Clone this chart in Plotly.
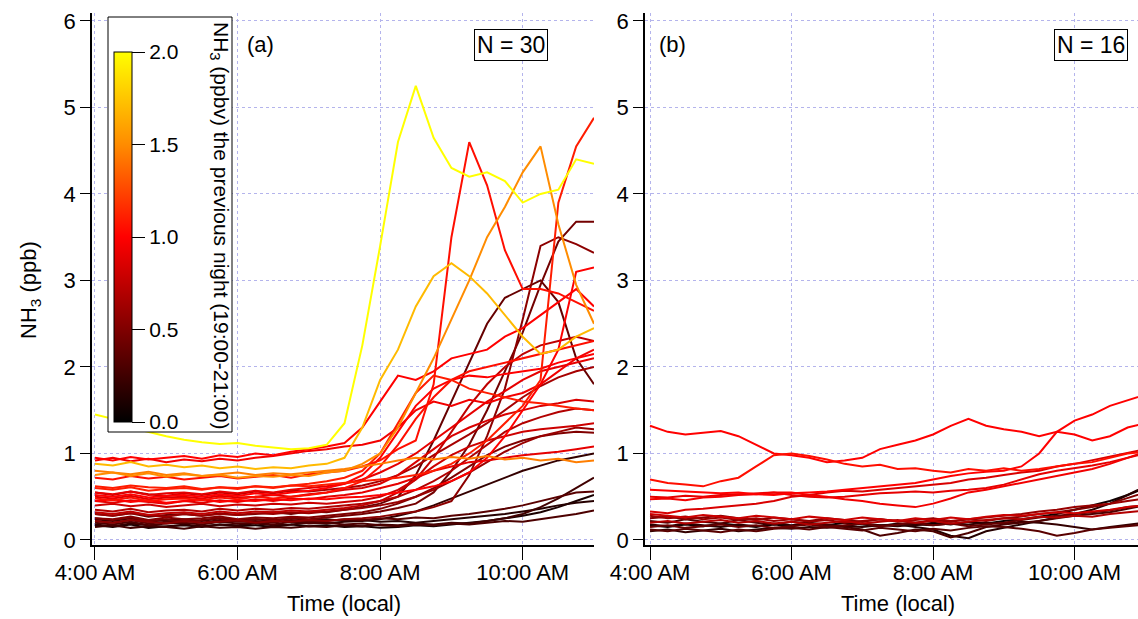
import plotly.graph_objects as go
from plotly.colors import sample_colorscale

W, H = 1138, 619

# time of day (hours, local)
hours = [4.0, 4.25, 4.5, 4.75, 5.0, 5.25, 5.5, 5.75, 6.0, 6.25, 6.5, 6.75, 7.0, 7.25, 7.5,
         7.75, 8.0, 8.25, 8.5, 8.75, 9.0, 9.25, 9.5, 9.75, 10.0, 10.25, 10.5, 10.75, 11.0]

tick_hours = [4, 6, 8, 10]
tick_labels = ["4:00 AM", "6:00 AM", "8:00 AM", "10:00 AM"]

# previous-night NH3 (ppbv) for each morning, panel (a)
night_a = [2.0, 1.7, 1.5, 1.45, 1.05, 1.1, 0.45, 0.55, 0.4, 1.0,
           1.0, 0.95, 0.9, 0.85, 1.05, 0.7, 0.6, 0.3, 0.25, 0.5,
           0.65, 0.35, 0.8, 0.2, 1.0, 1.1, 0.15, 0.75, 0.9, 0.1]

series_a = [
    [1.45, 1.40, 1.30, 1.25, 1.20, 1.16, 1.13, 1.11, 1.12, 1.09, 1.07, 1.05, 1.06, 1.10, 1.35, 2.25, 3.40, 4.60, 5.25, 4.65, 4.30, 4.20, 4.25, 4.15, 3.90, 4.00, 4.05, 4.40, 4.35],
    [0.88, 0.86, 0.90, 0.85, 0.87, 0.84, 0.86, 0.83, 0.85, 0.82, 0.84, 0.83, 0.86, 0.88, 0.95, 1.30, 1.85, 2.20, 2.70, 3.05, 3.20, 3.05, 2.85, 2.60, 2.35, 2.15, 2.20, 2.35, 2.45],
    [0.75, 0.78, 0.74, 0.77, 0.73, 0.76, 0.74, 0.75, 0.72, 0.74, 0.73, 0.75, 0.74, 0.78, 0.80, 0.88, 1.00, 1.30, 1.70, 2.10, 2.55, 3.00, 3.50, 3.85, 4.25, 4.55, 3.65, 2.95, 2.50],
    [0.80, 0.78, 0.76, 0.79, 0.75, 0.77, 0.74, 0.76, 0.78, 0.75, 0.77, 0.76, 0.78, 0.80, 0.82, 0.85, 0.88, 0.92, 0.95, 0.93, 0.96, 0.94, 0.97, 0.93, 0.95, 0.92, 0.94, 0.90, 0.92],
    [0.72, 0.70, 0.74, 0.71, 0.73, 0.70, 0.72, 0.74, 0.71, 0.73, 0.75, 0.72, 0.76, 0.78, 0.80, 0.85, 0.92, 1.05, 1.15, 1.80, 3.50, 4.60, 4.10, 3.35, 2.90, 2.90, 2.85, 2.75, 2.65],
    [0.62, 0.60, 0.63, 0.61, 0.60, 0.62, 0.59, 0.61, 0.60, 0.62, 0.61, 0.63, 0.62, 0.64, 0.66, 0.68, 0.70, 0.72, 0.75, 0.80, 0.88, 1.00, 1.15, 1.35, 1.55, 1.85, 3.90, 4.55, 4.88],
    [0.25, 0.23, 0.26, 0.22, 0.24, 0.21, 0.23, 0.25, 0.22, 0.24, 0.23, 0.25, 0.24, 0.26, 0.28, 0.30, 0.33, 0.37, 0.42, 0.55, 0.80, 1.10, 1.50, 1.95, 2.40, 2.95, 3.45, 3.68, 3.68],
    [0.22, 0.20, 0.23, 0.21, 0.19, 0.22, 0.20, 0.21, 0.23, 0.20, 0.22, 0.21, 0.23, 0.22, 0.24, 0.25, 0.27, 0.30, 0.33, 0.38, 0.45, 0.75, 1.20, 1.75, 2.55, 3.40, 3.50, 3.42, 3.32],
    [0.30, 0.28, 0.31, 0.27, 0.29, 0.30, 0.28, 0.31, 0.29, 0.30, 0.32, 0.30, 0.33, 0.32, 0.35, 0.38, 0.42, 0.50, 0.75, 1.15, 1.60, 2.05, 2.50, 2.80, 2.90, 3.00, 2.75, 2.10, 1.80],
    [0.45, 0.47, 0.44, 0.46, 0.43, 0.45, 0.47, 0.44, 0.46, 0.45, 0.47, 0.46, 0.48, 0.47, 0.49, 0.50, 0.52, 0.55, 0.58, 0.62, 0.68, 0.78, 0.95, 1.20, 1.50, 1.80, 2.20, 3.10, 3.15],
    [0.95, 0.92, 0.96, 0.93, 0.95, 0.97, 0.94, 0.98, 0.96, 1.00, 0.98, 1.02, 1.05, 1.08, 1.12, 1.30, 1.60, 1.90, 1.85, 1.95, 2.10, 2.15, 2.20, 2.35, 2.45, 2.60, 2.75, 2.90, 2.70],
    [0.92, 0.95, 0.91, 0.94, 0.90, 0.93, 0.91, 0.94, 0.92, 0.95, 0.97, 1.00, 1.03, 1.05, 1.08, 1.10, 1.15, 1.30, 1.50, 1.60, 1.55, 1.62, 1.58, 1.65, 1.70, 1.80, 1.95, 2.10, 2.20],
    [0.55, 0.53, 0.56, 0.52, 0.54, 0.55, 0.53, 0.56, 0.54, 0.57, 0.55, 0.58, 0.60, 0.62, 0.65, 0.70, 0.78, 0.88, 1.00, 1.15, 1.30, 1.45, 1.60, 1.72, 1.85, 1.95, 2.00, 2.05, 2.10],
    [0.50, 0.48, 0.51, 0.47, 0.49, 0.50, 0.48, 0.51, 0.49, 0.50, 0.52, 0.50, 0.53, 0.55, 0.58, 0.60, 0.65, 0.75, 0.90, 1.05, 1.20, 1.30, 1.38, 1.45, 1.50, 1.55, 1.58, 1.62, 1.60],
    [0.48, 0.46, 0.49, 0.45, 0.47, 0.48, 0.46, 0.49, 0.47, 0.50, 0.48, 0.50, 0.52, 0.55, 0.60, 0.68, 0.85, 1.10, 1.40, 1.65, 1.85, 1.95, 2.00, 2.05, 2.10, 2.15, 2.20, 2.25, 2.30],
    [0.35, 0.33, 0.36, 0.32, 0.34, 0.35, 0.33, 0.36, 0.34, 0.36, 0.35, 0.37, 0.36, 0.38, 0.40, 0.42, 0.45, 0.50, 0.58, 0.68, 0.80, 0.95, 1.10, 1.25, 1.35, 1.42, 1.48, 1.52, 1.50],
    [0.30, 0.28, 0.31, 0.29, 0.27, 0.30, 0.28, 0.30, 0.29, 0.31, 0.30, 0.32, 0.31, 0.33, 0.35, 0.37, 0.40, 0.44, 0.50, 0.58, 0.68, 0.78, 0.90, 1.02, 1.12, 1.20, 1.25, 1.30, 1.28],
    [0.20, 0.18, 0.21, 0.17, 0.19, 0.20, 0.18, 0.21, 0.19, 0.20, 0.18, 0.21, 0.19, 0.20, 0.18, 0.19, 0.17, 0.16, 0.18, 0.17, 0.19, 0.18, 0.20, 0.22, 0.21, 0.24, 0.27, 0.30, 0.34],
    [0.15, 0.17, 0.14, 0.16, 0.15, 0.13, 0.16, 0.14, 0.15, 0.13, 0.15, 0.14, 0.16, 0.15, 0.17, 0.16, 0.18, 0.17, 0.19, 0.18, 0.20, 0.19, 0.22, 0.25, 0.30, 0.38, 0.48, 0.60, 0.72],
    [0.25, 0.24, 0.27, 0.23, 0.26, 0.24, 0.25, 0.27, 0.24, 0.26, 0.25, 0.27, 0.26, 0.28, 0.30, 0.32, 0.36, 0.42, 0.50, 0.60, 0.72, 0.85, 0.98, 1.08, 1.15, 1.20, 1.23, 1.25, 1.24],
    [0.55, 0.52, 0.56, 0.53, 0.51, 0.54, 0.52, 0.55, 0.53, 0.56, 0.54, 0.57, 0.56, 0.58, 0.60, 0.63, 0.68, 0.75, 0.85, 0.98, 1.10, 1.22, 1.35, 1.50, 1.65, 1.78, 1.88, 1.95, 2.00],
    [0.22, 0.20, 0.23, 0.19, 0.21, 0.22, 0.20, 0.23, 0.21, 0.22, 0.20, 0.23, 0.21, 0.22, 0.24, 0.23, 0.25, 0.24, 0.26, 0.25, 0.28, 0.30, 0.33, 0.36, 0.40, 0.45, 0.50, 0.55, 0.56],
    [0.40, 0.42, 0.39, 0.41, 0.38, 0.40, 0.42, 0.39, 0.41, 0.40, 0.42, 0.41, 0.43, 0.42, 0.44, 0.46, 0.50, 0.58, 0.70, 0.85, 0.98, 1.08, 1.15, 1.20, 1.25, 1.28, 1.30, 1.32, 1.35],
    [0.18, 0.16, 0.19, 0.17, 0.15, 0.18, 0.16, 0.18, 0.17, 0.19, 0.17, 0.18, 0.20, 0.19, 0.21, 0.22, 0.24, 0.28, 0.33, 0.40, 0.48, 0.56, 0.64, 0.72, 0.80, 0.86, 0.92, 0.96, 1.00],
    [0.52, 0.50, 0.53, 0.49, 0.51, 0.52, 0.50, 0.53, 0.51, 0.54, 0.52, 0.55, 0.57, 0.60, 0.65, 0.75, 0.95, 1.25, 1.55, 1.75, 1.85, 1.90, 1.88, 1.92, 1.95, 1.98, 2.05, 2.10, 2.15],
    [0.60, 0.58, 0.61, 0.57, 0.59, 0.60, 0.58, 0.61, 0.59, 0.62, 0.60, 0.63, 0.65, 0.68, 0.72, 0.80, 1.00, 1.35, 1.70, 1.90, 1.85, 1.75, 1.70, 1.65, 1.60, 1.58, 1.55, 1.52, 1.50],
    [0.24, 0.22, 0.25, 0.21, 0.23, 0.24, 0.22, 0.25, 0.23, 0.24, 0.22, 0.25, 0.23, 0.24, 0.22, 0.23, 0.21, 0.22, 0.20, 0.22, 0.24, 0.26, 0.28, 0.30, 0.33, 0.36, 0.40, 0.43, 0.45],
    [0.32, 0.30, 0.33, 0.29, 0.31, 0.32, 0.30, 0.33, 0.31, 0.33, 0.32, 0.34, 0.33, 0.35, 0.37, 0.40, 0.45, 0.55, 0.70, 0.95, 1.25, 1.55, 1.80, 2.00, 2.15, 2.25, 2.30, 2.35, 2.30],
    [0.45, 0.43, 0.46, 0.44, 0.42, 0.45, 0.43, 0.46, 0.44, 0.47, 0.45, 0.48, 0.47, 0.50, 0.52, 0.55, 0.60, 0.65, 0.72, 0.80, 0.85, 0.90, 0.92, 0.95, 0.98, 1.00, 1.02, 1.05, 1.08],
    [0.17, 0.15, 0.18, 0.14, 0.16, 0.17, 0.15, 0.18, 0.16, 0.17, 0.15, 0.18, 0.16, 0.17, 0.15, 0.16, 0.14, 0.15, 0.17, 0.16, 0.18, 0.20, 0.22, 0.25, 0.28, 0.32, 0.38, 0.45, 0.52],
]

# previous-night NH3 (ppbv) for each morning, panel (b)
night_b = [1.0, 1.05, 1.0, 0.95, 0.9, 0.85, 0.3, 0.2, 0.5, 0.6, 0.15, 0.4, 0.7, 0.35, 0.8, 0.05]

series_b = [
    [1.32, 1.25, 1.22, 1.24, 1.26, 1.20, 1.10, 1.00, 0.98, 0.95, 0.90, 0.92, 0.95, 1.05, 1.10, 1.15, 1.22, 1.32, 1.40, 1.32, 1.28, 1.25, 1.20, 1.25, 1.22, 1.15, 1.20, 1.30, 1.35],
    [0.70, 0.66, 0.64, 0.62, 0.68, 0.72, 0.85, 0.98, 1.00, 0.97, 0.93, 0.88, 0.85, 0.87, 0.82, 0.83, 0.80, 0.78, 0.82, 0.80, 0.83, 0.80, 0.82, 0.85, 0.88, 0.90, 0.95, 1.00, 1.02],
    [0.58, 0.57, 0.56, 0.55, 0.54, 0.55, 0.53, 0.52, 0.54, 0.55, 0.56, 0.58, 0.60, 0.62, 0.64, 0.66, 0.70, 0.74, 0.77, 0.79, 0.80, 0.85, 1.00, 1.25, 1.38, 1.45, 1.55, 1.62, 1.68],
    [0.47, 0.48, 0.46, 0.49, 0.50, 0.52, 0.53, 0.55, 0.55, 0.52, 0.50, 0.47, 0.45, 0.42, 0.40, 0.38, 0.42, 0.48, 0.55, 0.58, 0.62, 0.66, 0.70, 0.74, 0.78, 0.82, 0.88, 0.95, 1.02],
    [0.50, 0.49, 0.51, 0.50, 0.52, 0.53, 0.54, 0.55, 0.52, 0.50, 0.49, 0.50, 0.52, 0.54, 0.55, 0.56, 0.55, 0.57, 0.58, 0.60, 0.64, 0.70, 0.76, 0.80, 0.83, 0.86, 0.90, 0.95, 1.00],
    [0.33, 0.31, 0.35, 0.36, 0.38, 0.40, 0.42, 0.45, 0.50, 0.52, 0.55, 0.57, 0.56, 0.58, 0.60, 0.62, 0.64, 0.66, 0.70, 0.72, 0.75, 0.78, 0.80, 0.85, 0.88, 0.92, 0.96, 1.00, 1.05],
    [0.22, 0.20, 0.24, 0.21, 0.19, 0.23, 0.20, 0.18, 0.21, 0.19, 0.17, 0.15, 0.12, 0.05, 0.08, 0.12, 0.10, 0.03, 0.08, 0.15, 0.18, 0.20, 0.22, 0.25, 0.28, 0.30, 0.32, 0.36, 0.40],
    [0.10, 0.12, 0.09, 0.11, 0.13, 0.10, 0.12, 0.14, 0.13, 0.15, 0.14, 0.16, 0.15, 0.17, 0.16, 0.18, 0.17, 0.19, 0.18, 0.20, 0.19, 0.21, 0.20, 0.18, 0.15, 0.12, 0.15, 0.18, 0.20],
    [0.25, 0.27, 0.24, 0.26, 0.28, 0.25, 0.23, 0.26, 0.24, 0.22, 0.25, 0.23, 0.21, 0.24, 0.22, 0.20, 0.23, 0.21, 0.24, 0.22, 0.25, 0.27, 0.30, 0.32, 0.35, 0.38, 0.42, 0.48, 0.55],
    [0.28, 0.25, 0.27, 0.24, 0.26, 0.23, 0.25, 0.22, 0.24, 0.21, 0.23, 0.20, 0.22, 0.24, 0.21, 0.23, 0.25, 0.22, 0.24, 0.26, 0.28, 0.30, 0.33, 0.35, 0.38, 0.40, 0.42, 0.45, 0.48],
    [0.18, 0.16, 0.19, 0.17, 0.15, 0.18, 0.16, 0.19, 0.17, 0.20, 0.18, 0.16, 0.19, 0.17, 0.18, 0.15, 0.12, 0.05, 0.02, 0.10, 0.14, 0.18, 0.22, 0.26, 0.30, 0.35, 0.42, 0.52, 0.62],
    [0.15, 0.17, 0.14, 0.16, 0.18, 0.15, 0.17, 0.14, 0.16, 0.18, 0.15, 0.17, 0.19, 0.16, 0.18, 0.20, 0.17, 0.19, 0.16, 0.18, 0.20, 0.23, 0.26, 0.28, 0.30, 0.32, 0.34, 0.38, 0.40],
    [0.20, 0.22, 0.19, 0.21, 0.23, 0.20, 0.22, 0.19, 0.21, 0.18, 0.20, 0.22, 0.19, 0.21, 0.23, 0.20, 0.22, 0.19, 0.21, 0.23, 0.25, 0.24, 0.27, 0.26, 0.28, 0.27, 0.30, 0.32, 0.34],
    [0.12, 0.10, 0.13, 0.11, 0.09, 0.12, 0.10, 0.13, 0.14, 0.12, 0.15, 0.13, 0.11, 0.14, 0.12, 0.10, 0.13, 0.11, 0.14, 0.16, 0.15, 0.13, 0.10, 0.05, 0.08, 0.12, 0.14, 0.16, 0.18],
    [0.30, 0.28, 0.26, 0.29, 0.27, 0.25, 0.28, 0.26, 0.24, 0.27, 0.25, 0.23, 0.26, 0.24, 0.22, 0.25, 0.23, 0.26, 0.24, 0.27, 0.29, 0.28, 0.30, 0.32, 0.31, 0.33, 0.35, 0.38, 0.40],
    [0.17, 0.15, 0.18, 0.16, 0.19, 0.17, 0.15, 0.18, 0.16, 0.19, 0.17, 0.20, 0.18, 0.16, 0.19, 0.17, 0.20, 0.18, 0.21, 0.19, 0.22, 0.24, 0.27, 0.30, 0.35, 0.40, 0.45, 0.52, 0.60],
]

n_a = "N = 30"
n_b = "N = 16"
cbar_ticks = [0.0, 0.5, 1.0, 1.5, 2.0]
cbar_min, cbar_max = 0.0, 2.0

colorscale = [[0.0, "#000000"], [0.5, "#ff0000"], [0.75, "#ff8c00"], [1.0, "#ffff00"]]

FONT = "Arial, Liberation Sans, sans-serif"


def px_x(p):
    return p / W


def px_y(p):
    return 1 - p / H


fig = go.Figure()


def add_panel(series, night, xa, ya):
    order = sorted(range(len(series)), key=lambda i: night[i])
    for i in order:
        col = sample_colorscale(colorscale, [(night[i] - cbar_min) / (cbar_max - cbar_min)])[0]
        fig.add_trace(go.Scatter(x=hours, y=series[i], mode="lines",
                                 line=dict(color=col, width=2),
                                 xaxis=xa, yaxis=ya, showlegend=False, hoverinfo="skip"))


add_panel(series_a, night_a, "x", "y")
add_panel(series_b, night_b, "x2", "y2")

# colour bar
fig.add_trace(go.Scatter(
    x=[None], y=[None], mode="markers", showlegend=False, xaxis="x", yaxis="y",
    marker=dict(color=[0], colorscale=colorscale, cmin=cbar_min, cmax=cbar_max, showscale=True,
                colorbar=dict(thickness=18, thicknessmode="pixels", len=370, lenmode="pixels",
                              x=px_x(114), xanchor="left", y=px_y(237), yanchor="middle",
                              xpad=0, ypad=0, outlinewidth=1, outlinecolor="black",
                              ticks="outside", ticklen=13, tickwidth=1, tickcolor="black",
                              tickvals=cbar_ticks, ticktext=[f"{v:.1f}" for v in cbar_ticks],
                              tickfont=dict(family=FONT, size=21, color="black"),
                              bgcolor="rgba(0,0,0,0)", borderwidth=0))))

grid = "#b4b4ec"
axis_common = dict(showline=True, linecolor="black", linewidth=1.5, ticks="outside",
                   tickcolor="black", tickwidth=1, showgrid=True, gridcolor=grid, gridwidth=1,
                   griddash="dot", zeroline=False, automargin=False)

xa_common = dict(axis_common, tickvals=tick_hours, ticktext=tick_labels, ticklen=13,
                 ticklabelstandoff=-6, tickfont=dict(family=FONT, size=22, color="black"))
ya_common = dict(axis_common, range=[-0.058, 6.092], tickvals=[0, 1, 2, 3, 4, 5, 6], ticklen=10,
                 tickfont=dict(family=FONT, size=22, color="black"))

fig.update_layout(
    width=W, height=H, margin=dict(l=0, r=0, t=0, b=0),
    paper_bgcolor="white", plot_bgcolor="white",
    xaxis=dict(xa_common, domain=[px_x(92), px_x(594)], range=[3.958, 11.0], anchor="y"),
    yaxis=dict(ya_common, domain=[px_y(545), px_y(13)], anchor="x"),
    xaxis2=dict(xa_common, domain=[px_x(645), 1.0], range=[3.929, 10.897], anchor="y2"),
    yaxis2=dict(ya_common, domain=[px_y(545), px_y(13)], anchor="x2"),
    shapes=[dict(type="rect", xref="paper", yref="paper", x0=px_x(108), x1=px_x(232),
                 y0=px_y(432), y1=px_y(17), fillcolor="white", line=dict(color="black", width=1),
                 layer="above")],
)

ann = []
ann.append(dict(text="NH<sub>3</sub> (ppbv) the previous night (19:00-21:00)", textangle=90,
                x=px_x(220), y=px_y(225), xref="paper", yref="paper", showarrow=False,
                xanchor="center", yanchor="middle", font=dict(family=FONT, size=21, color="black")))
ann.append(dict(text="NH<sub>3</sub> (ppb)", textangle=-90, x=px_x(30), y=px_y(290),
                xref="paper", yref="paper", showarrow=False, xanchor="center", yanchor="middle",
                font=dict(family=FONT, size=22, color="black")))
for cx in [344, 898]:
    ann.append(dict(text="Time (local)", x=px_x(cx), y=px_y(603), xref="paper", yref="paper",
                    showarrow=False, xanchor="center", yanchor="middle",
                    font=dict(family=FONT, size=22, color="black")))
for lbl, lx in [("(a)", 245), ("(b)", 657)]:
    ann.append(dict(text=lbl, x=px_x(lx), y=px_y(45), xref="paper", yref="paper", showarrow=False,
                    xanchor="left", yanchor="middle", font=dict(family=FONT, size=22, color="black")))
for lbl, cx in [(n_a, 511), (n_b, 1091)]:
    ann.append(dict(text=lbl, x=px_x(cx), y=px_y(45), xref="paper", yref="paper", showarrow=False,
                    xanchor="center", yanchor="middle", bordercolor="black", borderwidth=1,
                    borderpad=2, bgcolor="white", font=dict(family=FONT, size=23, color="black")))
fig.update_layout(annotations=ann)

fig.write_html("out.html")
